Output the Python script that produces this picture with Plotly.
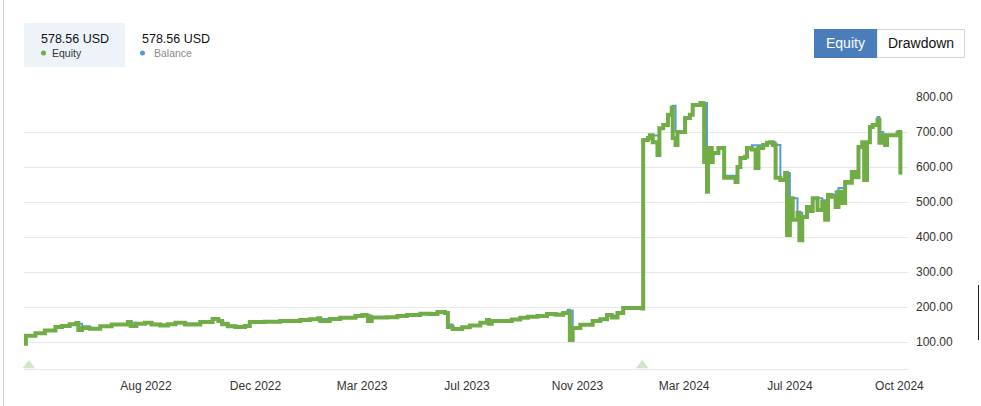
import plotly.graph_objects as go

# ---------------- data ----------------
dates = [
    "2022-03-26", "2022-03-27", "2022-03-28", "2022-04-07", "2022-04-17", "2022-04-28", "2022-05-05",
    "2022-05-13", "2022-05-20", "2022-05-22", "2022-05-26", "2022-06-03", "2022-06-14", "2022-06-26",
    "2022-07-13", "2022-07-16", "2022-07-22", "2022-07-31", "2022-08-07", "2022-08-16", "2022-08-24",
    "2022-09-01", "2022-09-11", "2022-09-27", "2022-10-10", "2022-10-16", "2022-10-20", "2022-10-26",
    "2022-11-03", "2022-11-13", "2022-11-18", "2022-12-04", "2022-12-20", "2023-01-10", "2023-01-20",
    "2023-01-29", "2023-01-31", "2023-02-10", "2023-02-21", "2023-03-09", "2023-03-16", "2023-03-20",
    "2023-03-22", "2023-03-26", "2023-04-11", "2023-04-22", "2023-05-02", "2023-05-16", "2023-05-26",
    "2023-06-03", "2023-06-11", "2023-06-14", "2023-06-19", "2023-06-29", "2023-07-07", "2023-07-18",
    "2023-07-25", "2023-07-27", "2023-07-30", "2023-08-11", "2023-08-20", "2023-08-29", "2023-09-06",
    "2023-09-16", "2023-09-26", "2023-10-05", "2023-10-13", "2023-10-18", "2023-10-20", "2023-10-23",
    "2023-10-31", "2023-11-13", "2023-11-21", "2023-11-28", "2023-12-03", "2023-12-09", "2023-12-15",
    "2024-01-04", "2024-01-05", "2024-01-10", "2024-01-12", "2024-01-15", "2024-01-20", "2024-01-22",
    "2024-01-26", "2024-01-31", "2024-02-04", "2024-02-05", "2024-02-08", "2024-02-10", "2024-02-13",
    "2024-02-18", "2024-02-23", "2024-02-26", "2024-03-05", "2024-03-08", "2024-03-09", "2024-03-12",
    "2024-03-13", "2024-03-17", "2024-03-18", "2024-03-24", "2024-03-28", "2024-03-30", "2024-04-05",
    "2024-04-11", "2024-04-13", "2024-04-16", "2024-04-21", "2024-04-23", "2024-04-28", "2024-05-02",
    "2024-05-05", "2024-05-10", "2024-05-14", "2024-05-17", "2024-05-20", "2024-05-23", "2024-05-28",
    "2024-06-02", "2024-06-04", "2024-06-07", "2024-06-10", "2024-06-15", "2024-06-17", "2024-06-20",
    "2024-06-25", "2024-06-28", "2024-07-01", "2024-07-06", "2024-07-11", "2024-07-14", "2024-07-17",
    "2024-07-21", "2024-07-25", "2024-07-28", "2024-08-01", "2024-08-04", "2024-08-07", "2024-08-11",
    "2024-08-15", "2024-08-18", "2024-08-22", "2024-08-24", "2024-08-27", "2024-08-30", "2024-09-02",
    "2024-09-07", "2024-09-09", "2024-09-13", "2024-09-15", "2024-09-17", "2024-09-28", "2024-09-29",
    "2024-10-01",
]

equity = [
    108, 95, 118, 125, 133, 143, 146,
    151, 154, 134, 140, 138, 145, 150,
    157, 146, 152, 155, 150, 147, 151,
    155, 150, 157, 166, 160, 151, 145,
    143, 146, 157, 158, 160, 163, 165,
    168, 160, 166, 169, 174, 177, 176,
    160, 170, 171, 174, 177, 181, 180,
    186, 183, 143, 137, 142, 147, 155,
    163, 152, 160, 160, 164, 169, 172,
    174, 180, 178, 183, 185, 106, 140,
    149, 160, 165, 177, 170, 183, 197,
    196, 677, 683, 691, 671, 634, 711,
    720, 749, 769, 683, 663, 700, 700,
    740, 749, 777, 783, 780, 614, 529,
    654, 614, 640, 654, 654, 569, 569,
    557, 600, 626, 629, 654, 650, 597,
    654, 663, 669, 671, 663, 569, 563,
    583, 406, 511, 449, 469, 391, 457,
    486, 474, 511, 477, 500, 449, 520,
    515, 486, 529, 497, 557, 555, 586,
    571, 657, 671, 563, 671, 714, 720,
    734, 669, 691, 663, 691, 697, 700,
    578.56,
]

balance = [
    108, 108, 118, 125, 133, 143, 146,
    151, 154, 152, 145, 140, 145, 150,
    157, 155, 152, 155, 152, 150, 151,
    155, 153, 157, 166, 162, 155, 147,
    145, 146, 157, 158, 160, 163, 165,
    168, 166, 166, 169, 174, 177, 177,
    176, 171, 171, 174, 177, 181, 180,
    186, 183, 150, 140, 142, 147, 155,
    163, 160, 160, 160, 164, 169, 172,
    176, 180, 181, 183, 192, 190, 142,
    149, 160, 165, 177, 176, 183, 197,
    196, 677, 683, 691, 690, 690, 711,
    720, 749, 772, 775, 700, 700, 700,
    740, 749, 777, 783, 783, 783, 654,
    654, 640, 640, 656, 656, 575, 575,
    575, 600, 626, 629, 654, 662, 662,
    662, 663, 669, 671, 671, 663, 565,
    583, 583, 511, 511, 469, 469, 460,
    486, 486, 511, 511, 505, 505, 520,
    520, 530, 540, 540, 560, 560, 586,
    586, 657, 671, 671, 671, 714, 720,
    743, 700, 691, 691, 691, 697, 700,
    578.56,
]

deposit_dates = ["2022-03-31", "2024-01-04"]

tick_dates = ["2022-08-01", "2022-11-24", "2023-03-16", "2023-07-04",
              "2023-10-28", "2024-02-17", "2024-06-07", "2024-09-30"]
tick_labels = ["Aug 2022", "Dec 2022", "Mar 2023", "Jul 2023",
               "Nov 2023", "Mar 2024", "Jul 2024", "Oct 2024"]
y_ticks = [100, 200, 300, 400, 500, 600, 700, 800]

last_equity = "578.56 USD"
last_balance = "578.56 USD"

# ---------------- style / layout ----------------
W, H = 981, 406
L, R, T, B = 24, 908, 97, 369
GREEN = "#70ad47"
BLUE = "#5b9bd5"
Y_MIN, Y_MAX = 22.9, 800
X_MIN, X_MAX = "2022-03-26", "2024-10-09"
FONT = "Liberation Sans, Arial, sans-serif"


def px(x):
    return (x - L) / (R - L)


def py(y):
    return (B - y) / (B - T)


fig = go.Figure()

fig.add_trace(go.Scatter(x=dates, y=balance, mode="lines",
                         line=dict(color=BLUE, width=2, shape="hv"), name="Balance",
                         hoverinfo="x+y"))
fig.add_trace(go.Scatter(x=dates, y=equity, mode="lines",
                         line=dict(color=GREEN, width=4, shape="hv"), name="Equity",
                         hoverinfo="x+y"))
fig.add_trace(go.Scatter(x=deposit_dates, y=[Y_MIN + 3.5 * (Y_MAX - Y_MIN) / (B - T)] * len(deposit_dates),
                         mode="markers", cliponaxis=False,
                         marker=dict(symbol="triangle-up", size=11, color="#d3e6c8",
                                     line=dict(width=0)),
                         hoverinfo="skip", name="Deposit"))

fig.update_layout(
    width=W, height=H,
    margin=dict(l=L, r=W - R, t=T, b=H - B, pad=0),
    paper_bgcolor="white", plot_bgcolor="white",
    showlegend=False,
    font=dict(family=FONT, size=12, color="#333333"),
    xaxis=dict(range=[X_MIN, X_MAX], tickmode="array", tickvals=tick_dates,
               ticktext=tick_labels, showgrid=False, zeroline=False,
               showline=True, linecolor="#e6e6e6", linewidth=1, ticks="",
               ticklabelstandoff=6, tickfont=dict(size=12, color="#333333")),
    yaxis=dict(range=[Y_MIN, Y_MAX], side="right", tickmode="array",
               tickvals=y_ticks, ticktext=[f"{v:.2f}" for v in y_ticks],
               showgrid=True, gridcolor="#e8e8e8", gridwidth=1, zeroline=False,
               showline=False, ticks="", ticklabelstandoff=7,
               tickfont=dict(size=12, color="#333333")),
)

shapes = []
# header box behind equity value
shapes.append(dict(type="rect", xref="paper", yref="paper",
                   x0=px(24), x1=px(125), y0=py(67), y1=py(23),
                   fillcolor="#eef3fa", line=dict(width=0), layer="below"))
# legend dots
shapes.append(dict(type="circle", xref="paper", yref="paper",
                   x0=px(41), x1=px(46), y0=py(55.5), y1=py(50.5),
                   fillcolor=GREEN, line=dict(width=0)))
shapes.append(dict(type="circle", xref="paper", yref="paper",
                   x0=px(140), x1=px(145), y0=py(55.5), y1=py(50.5),
                   fillcolor=BLUE, line=dict(width=0)))
# toggle buttons
shapes.append(dict(type="rect", xref="paper", yref="paper",
                   x0=px(877), x1=px(964.5), y0=py(57.5), y1=py(29.5),
                   fillcolor="white", line=dict(color="#d4d4d4", width=1)))
shapes.append(dict(type="rect", xref="paper", yref="paper",
                   x0=px(814), x1=px(877), y0=py(58), y1=py(29),
                   fillcolor="#4a7ebb", line=dict(width=0)))
# page borders
shapes.append(dict(type="line", xref="paper", yref="paper",
                   x0=px(3.5), x1=px(3.5), y0=py(0), y1=py(406),
                   line=dict(color="#cfcfcf", width=1)))
shapes.append(dict(type="line", xref="paper", yref="paper",
                   x0=px(978.5), x1=px(978.5), y0=py(285), y1=py(340),
                   line=dict(color="#222222", width=1)))
fig.update_layout(shapes=shapes)

ann = []
ann.append(dict(xref="paper", yref="paper", x=px(39), y=py(39), xanchor="left", yanchor="middle",
                text=last_equity, showarrow=False, font=dict(size=12.5, color="#111111", family=FONT)))
ann.append(dict(xref="paper", yref="paper", x=px(50), y=py(53), xanchor="left", yanchor="middle",
                text="Equity", showarrow=False, font=dict(size=10.5, color="#333333", family=FONT)))
ann.append(dict(xref="paper", yref="paper", x=px(140), y=py(39), xanchor="left", yanchor="middle",
                text=last_balance, showarrow=False, font=dict(size=12.5, color="#111111", family=FONT)))
ann.append(dict(xref="paper", yref="paper", x=px(152), y=py(53), xanchor="left", yanchor="middle",
                text="Balance", showarrow=False, font=dict(size=10.5, color="#8a8a8a", family=FONT)))
ann.append(dict(xref="paper", yref="paper", x=px(845.5), y=py(43.5), xanchor="center", yanchor="middle",
                text="Equity", showarrow=False, font=dict(size=14, color="white", family=FONT)))
ann.append(dict(xref="paper", yref="paper", x=px(920.5), y=py(43.5), xanchor="center", yanchor="middle",
                text="Drawdown", showarrow=False, font=dict(size=14, color="#111111", family=FONT)))
fig.update_layout(annotations=ann)

fig.write_html("out.html", config={"displayModeBar": False},
               post_script="document.body.style.margin='0';")
